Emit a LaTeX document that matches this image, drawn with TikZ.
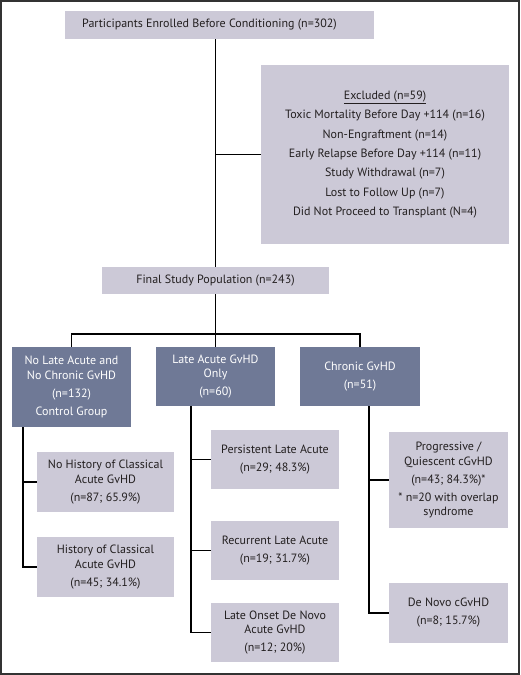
\documentclass[tikz,border=0pt]{standalone}
\usepackage{fontspec}
\setmainfont{PT Sans}
\usepackage{tikz}
\usetikzlibrary{arrows.meta, calc, positioning}
\definecolor{boxgray}{RGB}{204, 201, 215}
\definecolor{slateblue}{RGB}{111, 121, 150}
\definecolor{framegray}{RGB}{51, 51, 51}
\definecolor{inkgray}{RGB}{35, 31, 32}

\begin{document}
\begin{tikzpicture}[x=1pt,y=-1pt,
	lightbox/.style={fill=boxgray,draw=none,inner sep=0pt,align=center,text=inkgray,
		font=\fontsize{12}{14.5}\selectfont},
	darkbox/.style={fill=slateblue,draw=none,inner sep=0pt,align=center,text=white,
		font=\fontsize{12}{14.5}\selectfont},
	tree/.style={draw=black,line width=1.6pt}]
	% page and frame
	\useasboundingbox (0,0) rectangle (520,675);
	\draw[framegray,line width=2pt] (1,1) rectangle (519,674);

	% enrolment and exclusions
	\node[lightbox,minimum width=309,minimum height=28] (enrol) at (219.5,25) {Participants Enrolled Before Conditioning (n=302)\hspace{20pt}};
	\node[lightbox,minimum width=248,minimum height=179] (excl) at (385,154.5) {\underline{Excluded (n=59)}\\[4.8pt]
		Toxic Mortality Before Day +114 (n=16)\\[4.8pt]
		Non-Engraftment (n=14)\\[4.8pt]
		Early Relapse Before Day +114 (n=11)\\[4.8pt]
		Study Withdrawal (n=7)\\[4.8pt]
		Lost to Follow Up (n=7)\\[4.8pt]
		Did Not Proceed to Transplant (N=4)};
	\node[lightbox,minimum width=227,minimum height=27] (final) at (215.5,280.5) {Final Study Population (n=243)};

	% three groups
	\node[darkbox,minimum width=119,minimum height=80] (noGvhd) at (71.5,387) {No Late Acute and\\No Chronic GvHD\\[3.5pt](n=132)\\[3.5pt]Control Group};
	\node[darkbox,minimum width=119,minimum height=59] (lateAcute) at (215.5,376.5) {Late Acute GvHD\\Only\\[3.5pt](n=60)};
	\node[darkbox,minimum width=120,minimum height=59] (chronic) at (360,376.5) {Chronic GvHD\\[3.5pt](n=51)};

	% subgroups
	\node[lightbox,minimum width=137,minimum height=60] (noHist) at (105.5,482) {No History of Classical\\Acute GvHD\\[3.5pt](n=87; 65.9\%)};
	\node[lightbox,minimum width=137,minimum height=60] (hist) at (105.5,567) {History of Classical\\Acute GvHD\\[3.5pt](n=45; 34.1\%)};
	\node[lightbox,minimum width=128,minimum height=59] (persist) at (275,459.5) {Persistent Late Acute\\[3.5pt](n=29; 48.3\%)};
	\node[lightbox,minimum width=128,minimum height=59] (recur) at (275,550.5) {Recurrent Late Acute\\[3.5pt](n=19; 31.7\%)};
	\node[lightbox,minimum width=128,minimum height=59] (deNovoA) at (275,632.5) {Late Onset De Novo\\Acute GvHD\\[3.5pt](n=12; 20\%)};
	\node[lightbox,minimum width=119,minimum height=96] (progr) at (448.5,480) {Progressive /\\Quiescent cGvHD\\[3.5pt](n=43; 84.3\%)*\\[3.5pt]* n=20 with overlap\\syndrome};
	\node[lightbox,minimum width=119,minimum height=60] (deNovoC) at (448.5,613) {De Novo cGvHD\\[3.5pt](n=8; 15.7\%)};

	% connectors
	\coordinate (split) at (215.5,334);
	\draw[tree] (final.north) -- (final.north |- enrol.south);
	\draw[tree] (excl.west) -- (excl.west -| final.north);
	\draw[tree] (final.south) -- (split);
	\draw[tree] (noGvhd.north) |- (split) -| (chronic.north);
	\draw[tree] (split) -- (lateAcute.north);

	\coordinate (stemA) at (23,427);
	\coordinate (stemB) at (191,406);
	\coordinate (stemC) at (369,406);
	\draw[tree] (stemA) |- (noHist.west);
	\draw[tree] (stemA) |- (hist.west);
	\draw[tree] (stemB) |- (persist.west);
	\draw[tree] (stemB) |- (recur.west);
	\draw[tree] (stemB) |- (deNovoA.west);
	\draw[tree] (stemC) |- (progr.west);
	\draw[tree] (stemC) |- (deNovoC.west);
	%%%%%%%%%%%%%%%%%%%%%%%%%%%%%
\end{tikzpicture}
\end{document}
